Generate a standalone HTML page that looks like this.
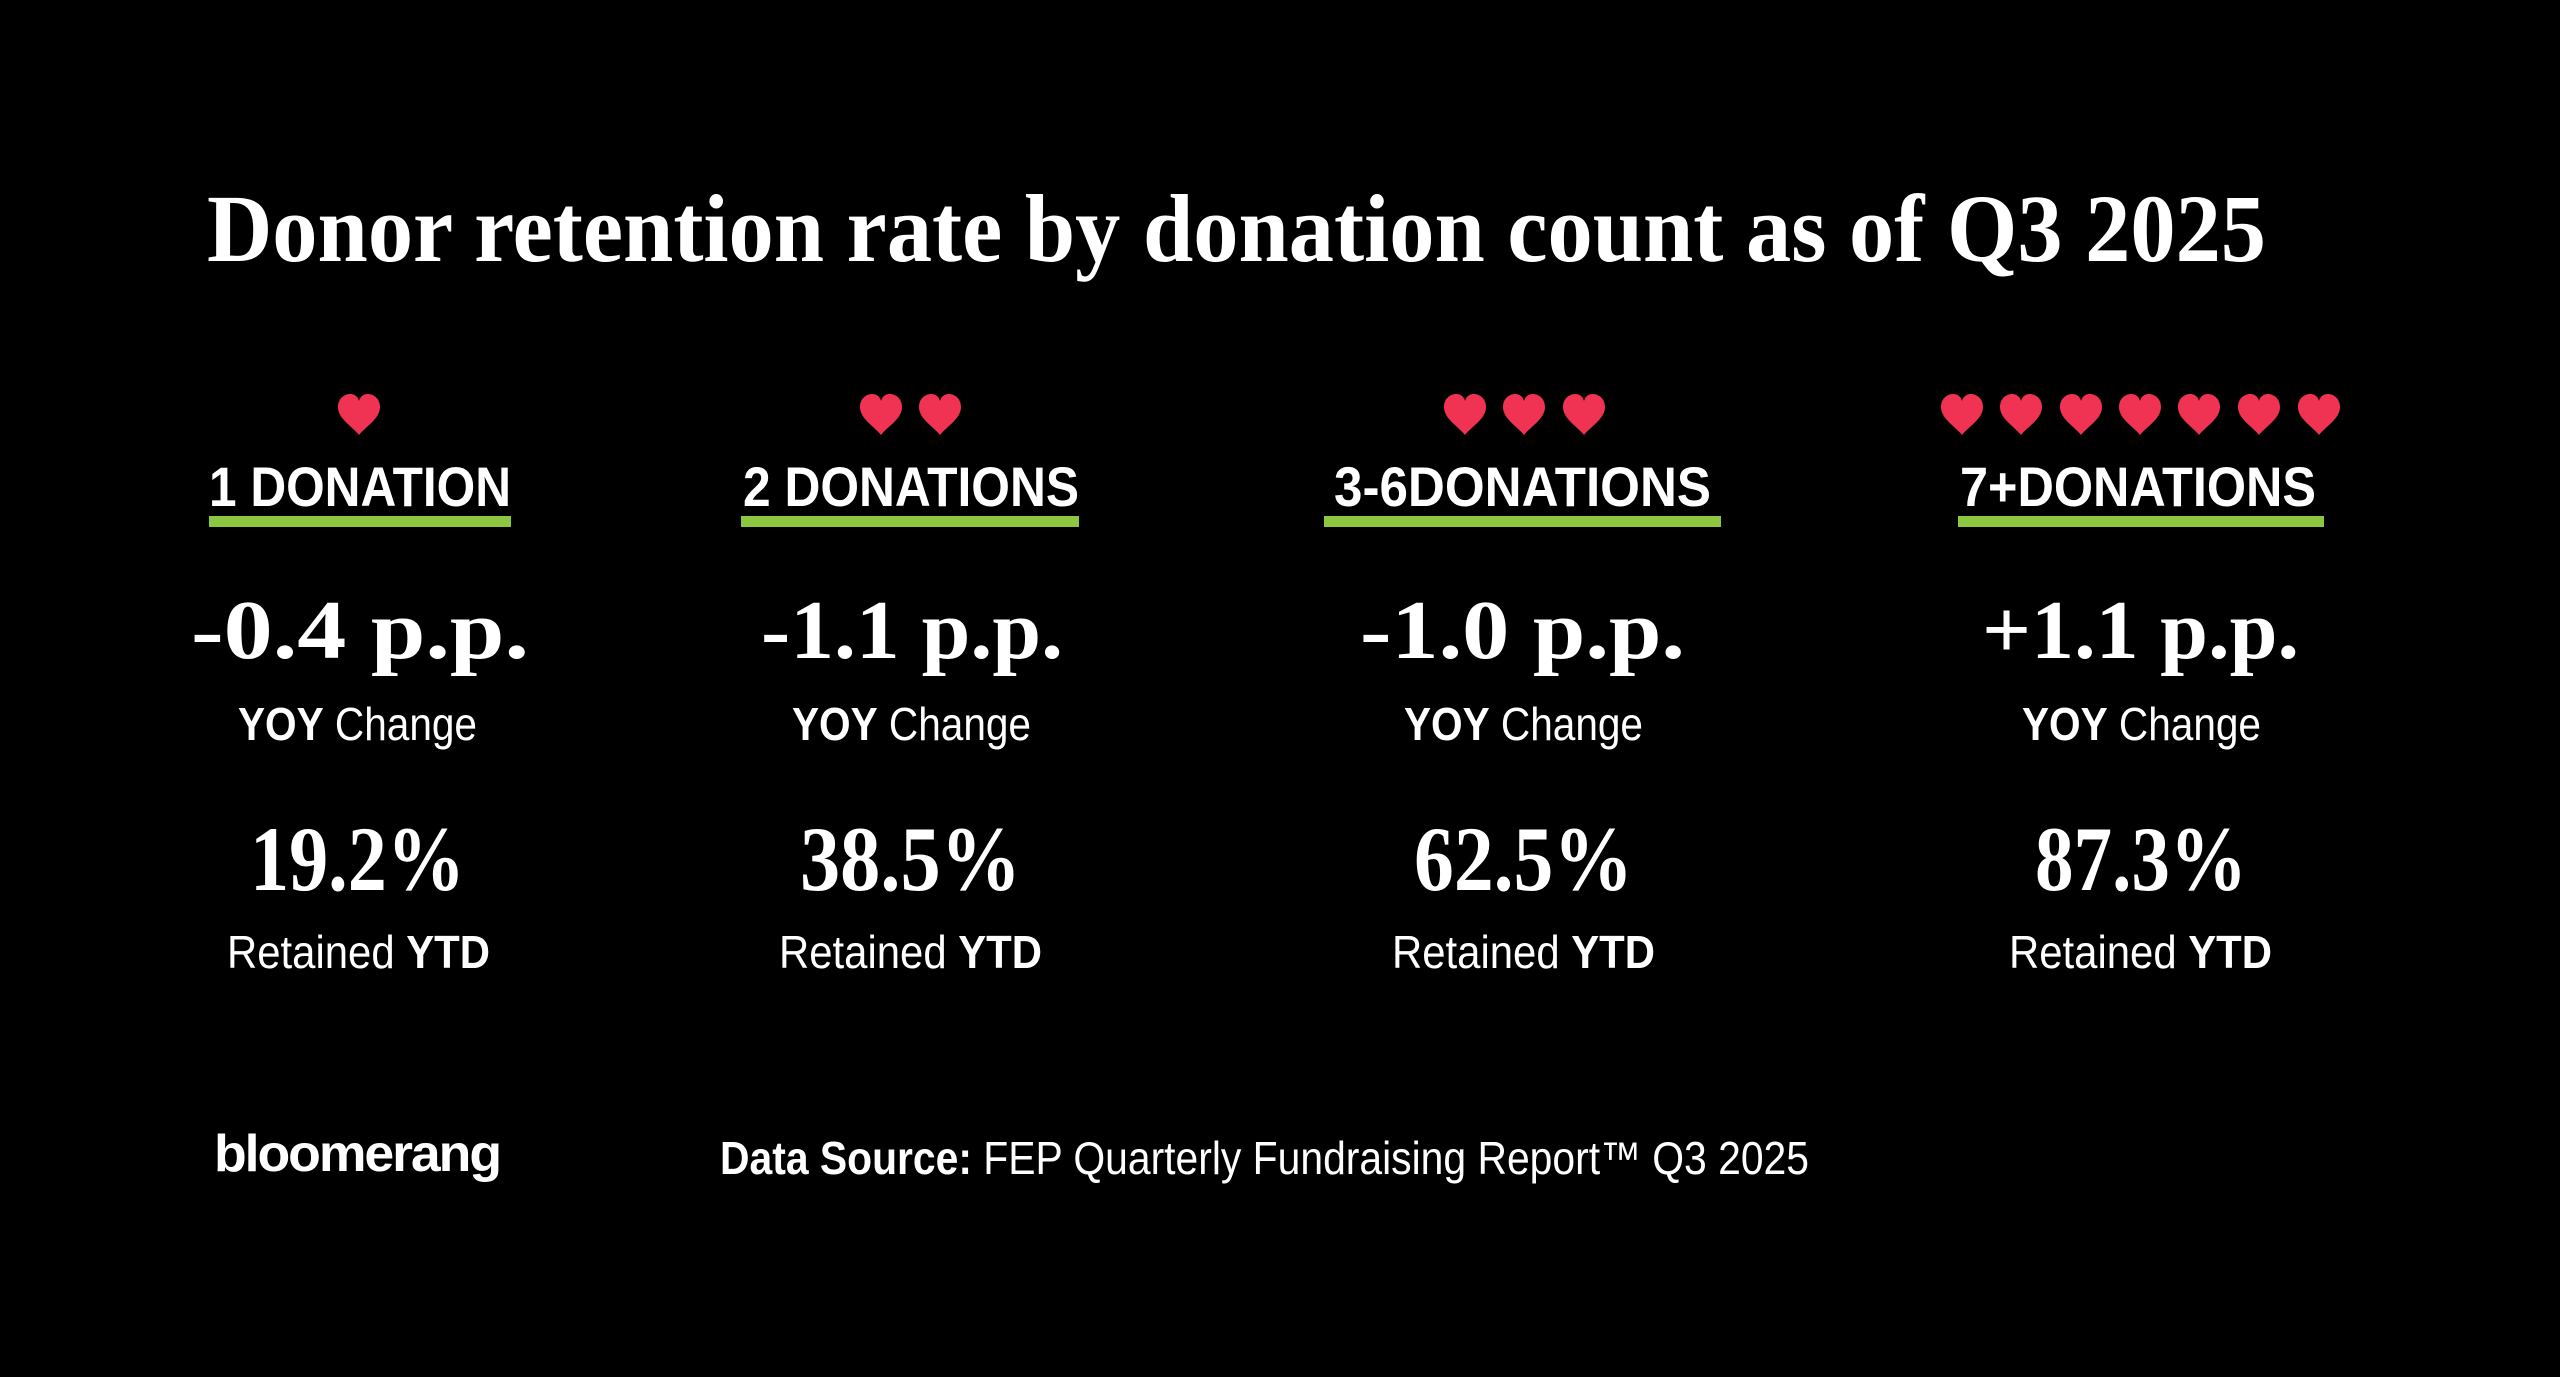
<!DOCTYPE html>
<html><head><meta charset="utf-8"><style>
html,body{margin:0;padding:0;background:#000;}
svg{display:block}
</style></head><body>
<svg width="2560" height="1377" viewBox="0 0 2560 1377" xmlns="http://www.w3.org/2000/svg">
<rect width="2560" height="1377" fill="#000"/>
<defs>
<path id="h" d="M0,20 C-6,12 -21,4 -21,-8 C-21,-17 -14,-21 -9,-21 C-4,-21 -1,-18 0,-14 C1,-18 4,-21 9,-21 C14,-21 21,-17 21,-8 C21,4 6,12 0,20 Z" fill="#f03352"/>
</defs>
<g font-family="Liberation Serif, serif" font-weight="bold" fill="#fff">
<text x="207" y="261" font-size="96" textLength="2059" lengthAdjust="spacingAndGlyphs">Donor retention rate by donation count as of Q3 2025</text>
</g>
<!-- hearts -->
<use href="#h" x="359" y="415"/>
<use href="#h" x="881" y="415"/><use href="#h" x="940" y="415"/>
<use href="#h" x="1465" y="415"/><use href="#h" x="1524" y="415"/><use href="#h" x="1584" y="415"/>
<use href="#h" x="1962" y="415"/><use href="#h" x="2021" y="415"/><use href="#h" x="2081" y="415"/><use href="#h" x="2140" y="415"/><use href="#h" x="2199" y="415"/><use href="#h" x="2259" y="415"/><use href="#h" x="2319" y="415"/>
<!-- labels -->
<g font-family="Liberation Sans, sans-serif" font-weight="bold" fill="#fff" font-size="56">
<text x="209" y="506" textLength="302" lengthAdjust="spacingAndGlyphs">1 DONATION</text>
<text x="743" y="506" textLength="336" lengthAdjust="spacingAndGlyphs">2 DONATIONS</text>
<text x="1334" y="506" textLength="377" lengthAdjust="spacingAndGlyphs">3-6DONATIONS</text>
<text x="1960" y="506" textLength="356" lengthAdjust="spacingAndGlyphs">7+DONATIONS</text>
</g>
<g fill="#8dc63f">
<rect x="209" y="516" width="302" height="11"/>
<rect x="741" y="516" width="338" height="11"/>
<rect x="1324" y="516" width="397" height="11"/>
<rect x="1958" y="516" width="366" height="11"/>
</g>
<g font-family="Liberation Serif, serif" font-weight="bold" fill="#fff" font-size="84">
<text x="191" y="658" textLength="338" lengthAdjust="spacingAndGlyphs">-0.4 p.p.</text>
<text x="761" y="658" textLength="302" lengthAdjust="spacingAndGlyphs">-1.1 p.p.</text>
<text x="1360" y="658" textLength="325" lengthAdjust="spacingAndGlyphs">-1.0 p.p.</text>
<text x="1982" y="658" textLength="317" lengthAdjust="spacingAndGlyphs">+1.1 p.p.</text>
</g>
<g font-family="Liberation Sans, sans-serif" fill="#fff" font-size="46">
<text x="238" y="740" textLength="239" lengthAdjust="spacingAndGlyphs"><tspan font-weight="bold">YOY</tspan> Change</text>
<text x="792" y="740" textLength="239" lengthAdjust="spacingAndGlyphs"><tspan font-weight="bold">YOY</tspan> Change</text>
<text x="1404" y="740" textLength="239" lengthAdjust="spacingAndGlyphs"><tspan font-weight="bold">YOY</tspan> Change</text>
<text x="2022" y="740" textLength="239" lengthAdjust="spacingAndGlyphs"><tspan font-weight="bold">YOY</tspan> Change</text>
</g>
<g font-family="Liberation Serif, serif" font-weight="bold" fill="#fff" font-size="92">
<text x="250" y="890" textLength="215" lengthAdjust="spacingAndGlyphs">19.2%</text>
<text x="800" y="890" textLength="221" lengthAdjust="spacingAndGlyphs">38.5%</text>
<text x="1414" y="890" textLength="219" lengthAdjust="spacingAndGlyphs">62.5%</text>
<text x="2035" y="890" textLength="212" lengthAdjust="spacingAndGlyphs">87.3%</text>
</g>
<g font-family="Liberation Sans, sans-serif" fill="#fff" font-size="46">
<text x="227" y="968" textLength="263" lengthAdjust="spacingAndGlyphs">Retained <tspan font-weight="bold">YTD</tspan></text>
<text x="779" y="968" textLength="263" lengthAdjust="spacingAndGlyphs">Retained <tspan font-weight="bold">YTD</tspan></text>
<text x="1392" y="968" textLength="263" lengthAdjust="spacingAndGlyphs">Retained <tspan font-weight="bold">YTD</tspan></text>
<text x="2009" y="968" textLength="263" lengthAdjust="spacingAndGlyphs">Retained <tspan font-weight="bold">YTD</tspan></text>
</g>
<text x="214" y="1171" font-family="Liberation Sans, sans-serif" font-weight="bold" font-size="52" fill="#fff" textLength="286" lengthAdjust="spacingAndGlyphs" letter-spacing="-2">bloomerang</text>
<text x="720" y="1174" font-family="Liberation Sans, sans-serif" font-size="46" fill="#fff" textLength="1089" lengthAdjust="spacingAndGlyphs"><tspan font-weight="bold">Data Source:</tspan> FEP Quarterly Fundraising Report™ Q3 2025</text>
</svg>
</body></html>
